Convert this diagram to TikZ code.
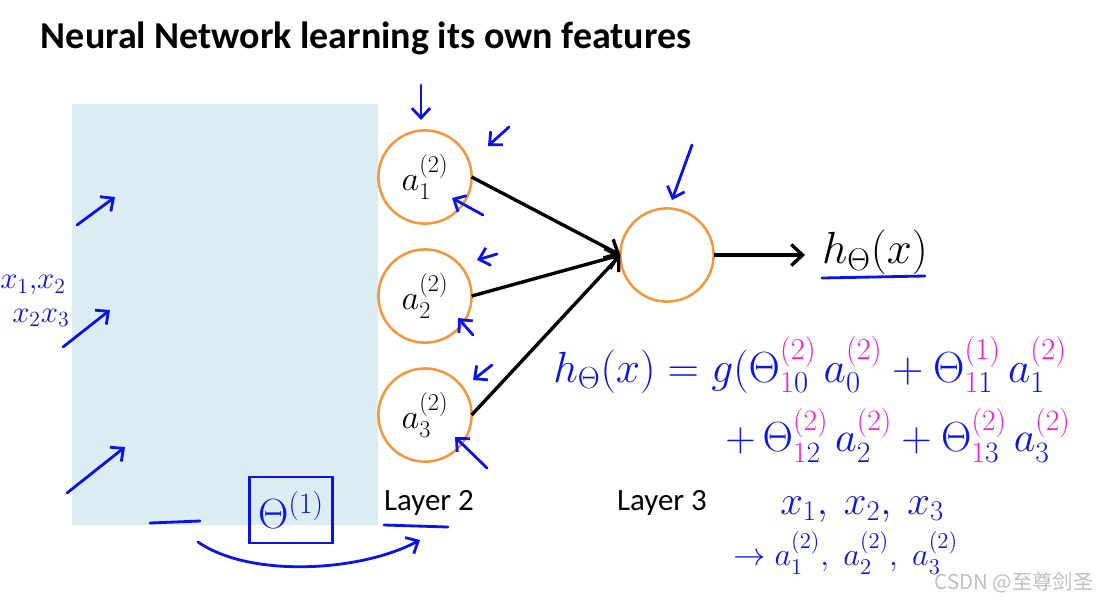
\RequirePackage{fix-cm}
\documentclass[tikz,border=0pt]{standalone}
\usepackage{amsmath}
\usepackage[no-math]{fontspec}
\setmainfont{Carlito}
\newfontfamily\cjk{Noto Sans CJK SC}
\usepackage{tikz}
\usetikzlibrary{arrows.meta, positioning}
\definecolor{layerfill}{RGB}{219,236,242}
\definecolor{unitorange}{RGB}{243,151,63}
\definecolor{penblue}{RGB}{10,20,230}
\definecolor{penpink}{RGB}{255,20,220}
\newcommand{\mg}[1]{\textcolor{penpink}{#1}}

\begin{document}
\begin{tikzpicture}[x=0.025cm,y=-0.025cm,
 unit/.style={circle,draw=unitorange,line width=1.8pt,minimum size=2.33cm,
   inner sep=0pt,outer sep=0pt,fill=white,font=\fontsize{24.5}{29}\selectfont},
 link/.style={-{Straight Barb[length=8pt,width=15pt]},line width=2.4pt},
 layer/.style={font=\fontsize{22}{26}\selectfont},
 pen/.style={draw=penblue,line width=2pt,line cap=round,line join=round},
 penarrow/.style={pen,-{Straight Barb[length=7pt,width=13pt]}},
 ink/.style={text=penblue,inner sep=0pt,font=\fontsize{31}{37}\selectfont}]
 \useasboundingbox (0,0) rectangle (1103,600);
 \node[anchor=west,font=\bfseries\fontsize{27}{32}\selectfont] (title) at (36,38)
   {Neural Network learning its own features};
 % layer 1 is covered
 \fill[layerfill] (72,104) rectangle (378,525);
 \node[unit] (a1) at (425,177) {$a^{(2)}_1$};
 \node[unit,below=0.645cm of a1] (a2) {$a^{(2)}_2$};
 \node[unit,below=0.645cm of a2] (a3) {$a^{(2)}_3$};
 \node[unit] (out) at (667,255) {};
 \node[anchor=west,inner sep=0.42cm,font=\fontsize{32}{38}\selectfont] (h) at (805,252) {$h_\Theta(x)$};
 \draw[link] (a1.east) -- (out.west);
 \draw[link] (a2.east) -- (out.west);
 \draw[link] (a3.east) -- (out.west);
 \draw[link] (out) -- (out -| h.west);
 \node[layer] (lay2) at (429,503) {Layer 2};
 \node[layer] (lay3) at (662,503) {Layer 3};
 % handwriting
 \foreach \xa/\ya/\xb/\yb in {77/225/115/197, 63/347/110/310, 67/493/125/447,
   421/85/421/120, 509/127/488/146, 483/215/452/198, 497/254/477/260,
   473/335/458/318, 492/365/473/380, 487/468/455/437, 692/145/672/200}
   \draw[penarrow] (\xa,\ya) -- (\xb,\yb);
 \draw[pen] (150,523) -- (200,521);
 \draw[pen] (384,525) -- (448,527);
 \draw[pen] (822,278) -- (925,276);
 \node[ink,draw=penblue,line width=2pt,minimum width=2.07cm,minimum height=1.65cm,
   font=\fontsize{30}{36}\selectfont] (theta1) at (291,510) {$\Theta^{(1)}$};
 \draw[penarrow] (198,542) .. controls (250,578) and (360,572) .. (420,540);
 \node[ink,anchor=west,font=\fontsize{22}{26}\selectfont] (x12) at (0,285) {$x_1{,}x_2$};
 \node[ink,anchor=west,font=\fontsize{22}{26}\selectfont] (x23) at (12,318) {$x_2x_3$};
 \node[ink,anchor=west] (eq1) at (553,365)
   {$h_{\Theta}(x) = g(\Theta^{\mg{(2)}}_{\mg{1}0}\,a^{\mg{(2)}}_0 + \Theta^{\mg{(1)}}_{\mg{1}1}\,a^{\mg{(2)}}_1$};
 \node[ink,anchor=west,font=\fontsize{30}{36}\selectfont] (eq2) at (725,435)
   {$+\,\Theta^{\mg{(2)}}_{\mg{1}2}\,a^{\mg{(2)}}_2 + \Theta^{\mg{(2)}}_{\mg{1}3}\,a^{\mg{(2)}}_3$};
 \node[ink,anchor=west,font=\fontsize{29}{35}\selectfont] (xs) at (780,510) {$x_1,\ x_2,\ x_3$};
 \node[ink,anchor=west,font=\fontsize{23}{28}\selectfont] (as) at (733,553) {$\rightarrow a^{(2)}_1,\;a^{(2)}_2,\;a^{(2)}_3$};
 \node[text=black!25,inner sep=0pt,anchor=east,font=\cjk\fontsize{14.5}{17}\selectfont] (mark) at (1094,583) {CSDN @至尊剑圣};
\end{tikzpicture}
\end{document}
